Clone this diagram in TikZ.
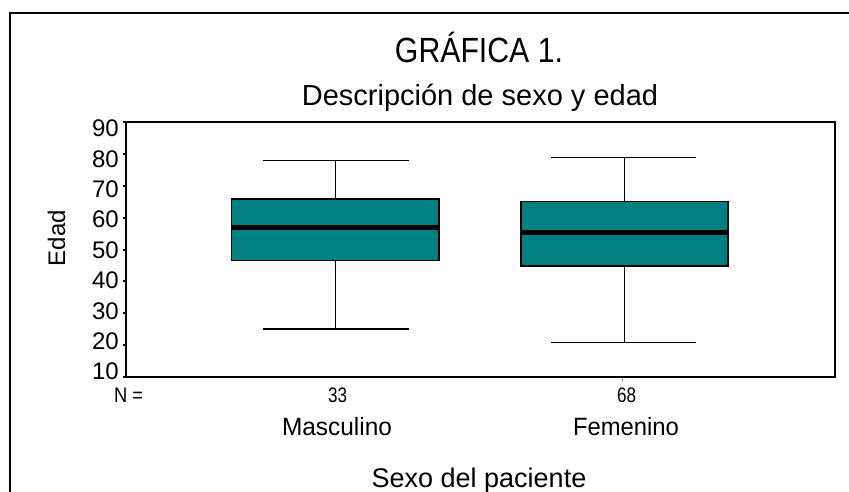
\documentclass[tikz,border=0pt]{standalone}
\usepackage{fontspec}
\setmainfont{Liberation Sans}
\usepackage{graphicx}
\definecolor{boxteal}{RGB}{0,128,128}
\newcommand{\fitw}[2]{\resizebox{#1}{\height}{#2}}
\newcommand{\fsz}[1]{\fontsize{#1}{#1}\selectfont}
\begin{document}
\begin{tikzpicture}[x=1pt,y=-1pt,
  outerframe/.style={line width=2pt},
  plotframe/.style={draw=black,line width=2pt,inner sep=0pt},
  boxshape/.style={fill=boxteal,draw=black,line width=1.2pt,inner sep=0pt},
  whisk/.style={line width=1.3pt},
  medline/.style={line width=5.5pt},
  ticklbl/.style={inner sep=0pt,anchor=east,font=\fsz{24}},
  txt/.style={inner sep=0pt}]
\useasboundingbox (0,0) rectangle (849,491);
\clip (0,0) rectangle (849,491);
% outer frame (cropped)
\draw[outerframe] (10,500) -- (10,13) -- (860,13);
% titles
\node[txt,anchor=base] (title) at (479,62) {\fsz{35}\fitw{168pt}{GRÁFICA 1.}};
\node[txt,anchor=base] (subtitle) at (480,105.7) {\fsz{29}Descripción de sexo y edad};
% plot frame
\node[plotframe,minimum width=709,minimum height=255] (plot) at (480.5,249.5) {};
% y ticks and labels
\foreach \k in {0,...,8}{
  \draw[line width=2pt] (123,{122+\k*31.875}) -- (126,{122+\k*31.875});
}
\foreach \v [count=\k from 0] in {90,80,70,60,50,40,30,20,10}{
  \node[ticklbl] (yl\v) at (119,{128.5+\k*30.375}) {\v};
}
\node[txt,rotate=90,font=\fsz{24}] (ylab) at (56.5,238) {Edad};
% Masculino box
\coordinate (mtop) at (335.35,160.7);
\coordinate (mbot) at (335.35,329);
\coordinate (mmed) at (335.35,227.7);
\draw[whisk] (263,160.7) -- (408.7,160.7);
\draw[whisk] (263,329) -- (408.7,329);
\node[boxshape,minimum width=207.3,minimum height=61.7] (mbox) at (335.35,229.85) {};
\draw[whisk] (mbox.north) -- (mtop);
\draw[whisk] (mbox.south) -- (mbot);
\draw[medline] (mbox.west |- mmed) -- (mbox.east |- mmed);
% Femenino box
\coordinate (ftop) at (624.5,157.3);
\coordinate (fbot) at (624.5,342.7);
\coordinate (fmed) at (624.5,232.7);
\draw[whisk] (550.7,157.3) -- (696,157.3);
\draw[whisk] (550.7,342.7) -- (696,342.7);
\node[boxshape,minimum width=207,minimum height=64.7] (fbox) at (624.5,233.65) {};
\draw[whisk] (fbox.north) -- (ftop);
\draw[whisk] (fbox.south) -- (fbot);
\draw[medline] (fbox.west |- fmed) -- (fbox.east |- fmed);
% small x tick
\draw[gray,line width=0.8pt] (622,378.5) -- (622,381);
% counts and categories
\node[txt] (nlab) at (128.5,395.5) {\fsz{21}\fitw{29pt}{N =}};
\node[txt] (n1) at (337.5,395.5) {\fsz{21}\fitw{19pt}{33}};
\node[txt] (n2) at (626.5,395.5) {\fsz{21}\fitw{19pt}{68}};
\node[txt,anchor=base] (cat1) at (337,435) {\fsz{25}\fitw{110pt}{Masculino}};
\node[txt,anchor=base] (cat2) at (626,435) {\fsz{25}\fitw{106pt}{Femenino}};
\node[txt,anchor=base] (xlab) at (479,487) {\fsz{27}Sexo del paciente};
\end{tikzpicture}
\end{document}
